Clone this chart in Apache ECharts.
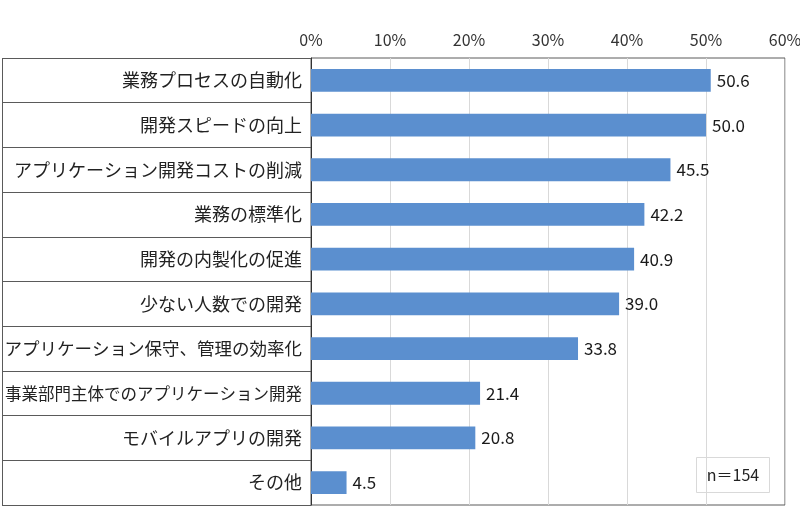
<!DOCTYPE html>
<html style="height: 100%">
<head>
    <meta charset="utf-8">
    <title>ローコード開発の目的</title>
</head>
<body style="height: 100%; margin: 0; background: #fff">
<div id="container" style="width: 800px; height: 521px"></div>
<script type="text/javascript" src="https://cdn.jsdelivr.net/npm/echarts@6/dist/echarts.min.js"></script>
<script type="text/javascript">
    var categories = [
        '業務プロセスの自動化',
        '開発スピードの向上',
        'アプリケーション開発コストの削減',
        '業務の標準化',
        '開発の内製化の促進',
        '少ない人数での開発',
        'アプリケーション保守、管理の効率化',
        '事業部門主体でのアプリケーション開発',
        'モバイルアプリの開発',
        'その他'
    ];
    var values = [50.6, 50.0, 45.5, 42.2, 40.9, 39.0, 33.8, 21.4, 20.8, 4.5];
    var tickMax = 60;
    var tickStep = 10;
    var sampleNote = 'n＝154';

    var font = '"Noto Sans CJK JP", "Noto Sans", sans-serif';
    var frameColor = '#5a5a5a';

    var dom = document.getElementById('container');
    var myChart = echarts.init(dom);

    var option = {
        animation: false,
        textStyle: { fontFamily: font },
        grid: {
            left: 311,
            right: 15,
            top: 58,
            bottom: 16,
            outerBoundsMode: 'none',
            containLabel: false,
            show: true,
            borderColor: frameColor,
            borderWidth: 1
        },
        xAxis: {
            type: 'value',
            position: 'top',
            min: 0,
            max: tickMax,
            interval: tickStep,
            axisLine: { show: false },
            axisTick: { show: false },
            axisLabel: {
                formatter: '{value}%',
                fontSize: 16,
                color: '#333',
                margin: 10
            },
            splitLine: { lineStyle: { color: '#d9d9d9', width: 1 } }
        },
        yAxis: {
            type: 'category',
            inverse: true,
            data: categories,
            axisLine: { show: true, lineStyle: { color: '#333', width: 1 } },
            axisTick: {
                show: true,
                interval: 0,
                length: 309,
                lineStyle: { color: frameColor, width: 1 }
            },
            axisLabel: {
                interval: 0,
                margin: 9,
                color: '#222',
                formatter: function (v) {
                    var k = v.length >= 18 ? 's' : (v.length >= 17 ? 'm' : 'l');
                    return '{' + k + '|' + v + '}';
                },
                rich: {
                    l: { fontSize: 18, fontFamily: font, color: '#222' },
                    m: { fontSize: 17.5, fontFamily: font, color: '#222' },
                    s: { fontSize: 16.5, fontFamily: font, color: '#222' }
                }
            }
        },
        series: [{
            type: 'bar',
            data: values,
            barWidth: '51%',
            itemStyle: { color: '#5b8fcf' },
            label: {
                show: true,
                position: 'right',
                distance: 6,
                fontSize: 17,
                color: '#1a1a1a',
                formatter: function (p) { return p.value.toFixed(1); }
            }
        }],
        graphic: [{
            type: 'line',
            shape: { x1: 2.5, y1: 58, x2: 2.5, y2: 505 },
            style: { stroke: frameColor, lineWidth: 1 }
        }, {
            type: 'group',
            right: 30,
            bottom: 28,
            children: [{
                type: 'rect',
                shape: { x: 0, y: 0, width: 73, height: 35 },
                style: { fill: '#fff', stroke: '#d9d9d9', lineWidth: 1 }
            }, {
                type: 'text',
                x: 36.5,
                y: 17.5,
                style: {
                    text: sampleNote,
                    font: '16px ' + font,
                    fill: '#222',
                    align: 'center',
                    verticalAlign: 'middle'
                }
            }]
        }]
    };

    myChart.setOption(option, true);
</script>
</body>
</html>
